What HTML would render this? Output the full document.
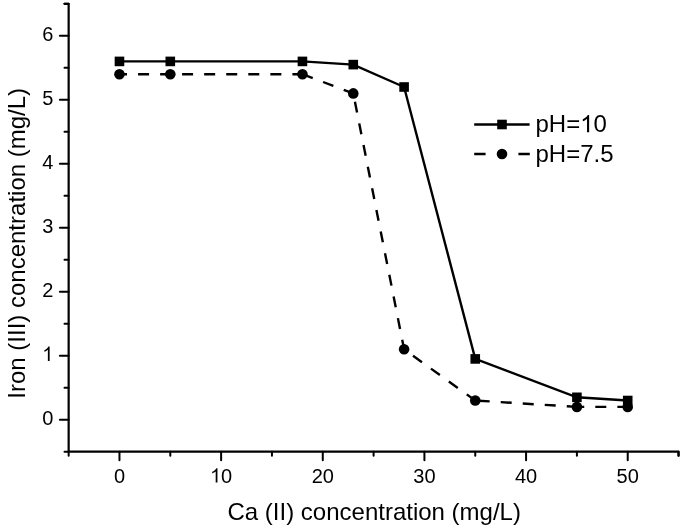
<!DOCTYPE html>
<html><head><meta charset="utf-8"><style>
html,body{margin:0;padding:0;background:#fff;}
body{width:685px;height:529px;overflow:hidden;}
svg{display:block;will-change:transform;}
text{font-family:"Liberation Sans",sans-serif;fill:#000;}
</style></head><body>
<svg width="685" height="529" viewBox="0 0 685 529">
<path d="M64.50 3.83H68.65V451.69H678.55V455.69" stroke="#000" stroke-width="2.2" fill="none" stroke-linecap="round" stroke-linejoin="round"/>
<path d="M59.87 419.70H68.65M59.87 355.72H68.65M59.87 291.74H68.65M59.87 227.76H68.65M59.87 163.78H68.65M59.87 99.80H68.65M59.87 35.82H68.65M64.50 451.69H68.65M64.50 387.71H68.65M64.50 323.73H68.65M64.50 259.75H68.65M64.50 195.77H68.65M64.50 131.79H68.65M64.50 67.81H68.65M64.50 3.83H68.65M119.47 451.69V460.24M221.12 451.69V460.24M322.77 451.69V460.24M424.42 451.69V460.24M526.07 451.69V460.24M627.72 451.69V460.24M68.65 451.69V455.69M170.30 451.69V455.69M271.95 451.69V455.69M373.60 451.69V455.69M475.25 451.69V455.69M576.90 451.69V455.69M678.55 451.69V455.69" stroke="#000" stroke-width="2.0" fill="none" stroke-linecap="round"/>
<g stroke="#000" stroke-width="2.4" stroke-dasharray="11.0 11.06"><line x1="119.47" y1="74.21" x2="170.30" y2="74.21" stroke-dashoffset="3.46"/><line x1="170.30" y1="74.21" x2="302.44" y2="74.21" stroke-dashoffset="10.26"/><line x1="302.44" y1="74.21" x2="353.27" y2="93.40" stroke-dashoffset="0.00"/><line x1="353.27" y1="93.40" x2="404.10" y2="349.32" stroke-dashoffset="13.56"/><line x1="404.10" y1="349.32" x2="475.25" y2="400.51" stroke-dashoffset="11.06"/><line x1="475.25" y1="400.51" x2="576.90" y2="406.90" stroke-dashoffset="18.61"/><line x1="576.90" y1="406.90" x2="627.72" y2="406.90" stroke-dashoffset="3.66"/></g>
<polyline points="119.47,61.41 170.30,61.41 302.44,61.41 353.27,64.61 404.10,87.00 475.25,358.92 576.90,397.31 627.72,400.51" stroke="#000" stroke-width="2.4" fill="none"/>
<circle cx="119.47" cy="74.21" r="5.3"/>
<circle cx="170.30" cy="74.21" r="5.3"/>
<circle cx="302.44" cy="74.21" r="5.3"/>
<circle cx="353.27" cy="93.40" r="5.3"/>
<circle cx="404.10" cy="349.32" r="5.3"/>
<circle cx="475.25" cy="400.51" r="5.3"/>
<circle cx="576.90" cy="406.90" r="5.3"/>
<circle cx="627.72" cy="406.90" r="5.3"/>
<rect x="114.67" y="56.61" width="9.6" height="9.6"/>
<rect x="165.50" y="56.61" width="9.6" height="9.6"/>
<rect x="297.64" y="56.61" width="9.6" height="9.6"/>
<rect x="348.47" y="59.81" width="9.6" height="9.6"/>
<rect x="399.30" y="82.20" width="9.6" height="9.6"/>
<rect x="470.45" y="354.12" width="9.6" height="9.6"/>
<rect x="572.10" y="392.51" width="9.6" height="9.6"/>
<rect x="622.92" y="395.71" width="9.6" height="9.6"/>
<path d="M474.2 124.5H529.6" stroke="#000" stroke-width="2.4"/>
<rect x="497.2" y="119.7" width="9.6" height="9.6"/>
<path d="M474.2 154.0H485.6M518.4 154.0H529.8" stroke="#000" stroke-width="2.4"/>
<circle cx="502" cy="154.0" r="5.3"/>
<text x="53.30" y="424.90" text-anchor="end" font-size="20">0</text>
<path transform="translate(42.18 360.92) scale(0.009766 -0.009766)" d="M763 0H583V1147Q518 1085 412.5 1023Q307 961 223 930V1104Q374 1175 487 1276Q600 1377 647 1472H763Z"/>
<text x="53.30" y="296.94" text-anchor="end" font-size="20">2</text>
<text x="53.30" y="232.96" text-anchor="end" font-size="20">3</text>
<text x="53.30" y="168.98" text-anchor="end" font-size="20">4</text>
<text x="53.30" y="105.00" text-anchor="end" font-size="20">5</text>
<text x="53.30" y="41.02" text-anchor="end" font-size="20">6</text>
<text x="119.47" y="482.6" text-anchor="middle" font-size="20">0</text>
<path transform="translate(210.00 482.60) scale(0.009766 -0.009766)" d="M763 0H583V1147Q518 1085 412.5 1023Q307 961 223 930V1104Q374 1175 487 1276Q600 1377 647 1472H763Z"/>
<text x="221.12" y="482.6" text-anchor="middle" font-size="20"> 0</text>
<text x="322.77" y="482.6" text-anchor="middle" font-size="20">20</text>
<text x="424.42" y="482.6" text-anchor="middle" font-size="20">30</text>
<text x="526.07" y="482.6" text-anchor="middle" font-size="20">40</text>
<text x="627.72" y="482.6" text-anchor="middle" font-size="20">50</text>
<text x="227.5" y="520" font-size="24">Ca (II) concentration (mg/L)</text>
<text transform="translate(25.35 398.7) rotate(-90)" x="0" y="0" font-size="24">Iron (III) concentration (mg/L)</text>
<text x="535.5" y="132.2" font-size="24">pH= 0</text>
<path transform="translate(580.20 132.20) scale(0.011719 -0.011719)" d="M763 0H583V1147Q518 1085 412.5 1023Q307 961 223 930V1104Q374 1175 487 1276Q600 1377 647 1472H763Z"/>
<text x="535.5" y="161.6" font-size="24">pH=7.5</text>
</svg>
</body></html>
